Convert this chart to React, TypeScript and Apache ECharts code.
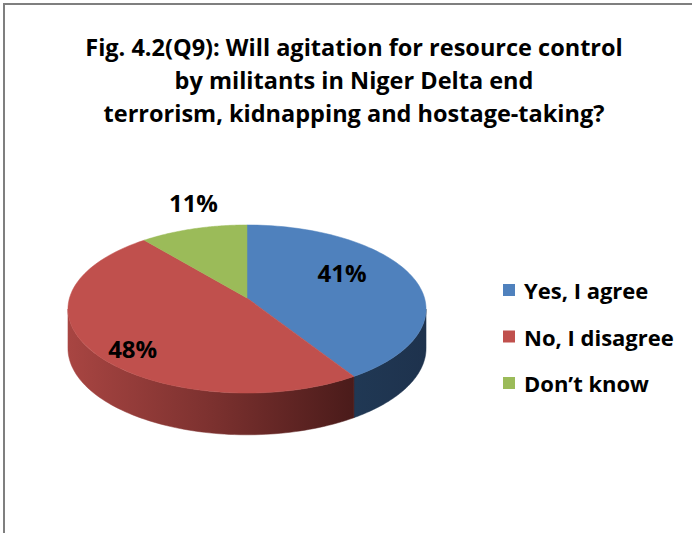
import React, { useEffect, useRef } from "react";
import * as echarts from "echarts";

const titleLines = [
  "Fig. 4.2(Q9): Will agitation for resource control",
  "by militants in Niger Delta end",
  "terrorism, kidnapping and hostage-taking?",
];
const categories = ["Yes, I agree", "No, I disagree", "Don\u2019t know"];
const values = [41, 48, 11];
const labelTexts = ["41%", "48%", "11%"];

const topColors = ["#4f81bd", "#c0504d", "#9bbb59"];
const FONT = "Open Sans";

// projection parameters (perspective ellipse)
const CX = 247;
const Y0 = 298;
const A = 177.5;
const B = 82.6;
const K = 0.131;
const Y0B = 337;
const BB = 85;

function proj(theta: number, r: number, y0: number, b: number): number[] {
  const u = r * Math.sin(theta);
  const v = -r * Math.cos(theta);
  const d = 1 - K * v;
  return [CX + (A * u) / d, y0 + (b * v) / d];
}

const total = values.reduce((s, v) => s + v, 0);
const TH_R = Math.acos(-K);
const TH_L = 2 * Math.PI - TH_R;

const sideFills: any[] = [
  {
    type: "linear", x: 354, y: 0, x2: 427, y2: 0, global: true,
    colorStops: [{ offset: 0, color: "#203854" }, { offset: 1, color: "#1e324d" }],
  },
  {
    type: "linear", x: 68, y: 0, x2: 354, y2: 0, global: true,
    colorStops: [
      { offset: 0, color: "#a84542" },
      { offset: 0.5, color: "#7c312f" },
      { offset: 1, color: "#4a1b1a" },
    ],
  },
  "#6f8a3c",
];
const labelR = [0.6, 0.6, 1.15];
const labelDX = [-5, -24, 7];
const labelDY = [-12, 20, -17];

function makeRender(i: number) {
  return function (_params: any, _api: any) {
    let cum = 0;
    for (let j = 0; j < i; j++) cum += values[j];
    const t0 = (cum / total) * Math.PI * 2;
    const t1 = ((cum + values[i]) / total) * Math.PI * 2;
    const children: any[] = [];
    const N = 80;
    const s0 = Math.max(t0, TH_R);
    const s1 = Math.min(t1, TH_L);
    if (s1 > s0) {
      const pts: number[][] = [];
      for (let k = 0; k <= N; k++) {
        const t = s0 + ((s1 - s0) * k) / N;
        pts.push(proj(t, 1, Y0, B));
      }
      for (let k = N; k >= 0; k--) {
        const t = s0 + ((s1 - s0) * k) / N;
        pts.push(proj(t, 1, Y0B, BB));
      }
      children.push({
        type: "polygon",
        shape: { points: pts },
        style: { fill: sideFills[i], stroke: sideFills[i], lineWidth: 0.5 },
        z2: 1,
      });
    }
    const top: number[][] = [[CX, Y0]];
    for (let k = 0; k <= N; k++) {
      const t = t0 + ((t1 - t0) * k) / N;
      top.push(proj(t, 1, Y0, B));
    }
    children.push({
      type: "polygon",
      shape: { points: top },
      style: { fill: topColors[i], stroke: topColors[i], lineWidth: 0.5 },
      z2: 2,
    });
    const mid = (t0 + t1) / 2;
    const lp = proj(mid, labelR[i], Y0, B);
    children.push({
      type: "text",
      x: lp[0] + labelDX[i],
      y: lp[1] + labelDY[i],
      style: {
        text: labelTexts[i],
        fill: "#000000",
        fontSize: 24,
        fontWeight: "bold",
        fontFamily: FONT,
        align: "center",
        verticalAlign: "middle",
      },
      z2: 3,
    });
    return { type: "group", children };
  };
}

export default function App() {
  const ref = useRef<HTMLDivElement>(null);
  useEffect(() => {
    if (!ref.current) return;
    const chart = echarts.init(ref.current, undefined, { renderer: "svg" });
    chart.setOption({
      animation: false,
      backgroundColor: "#ffffff",
      legend: {
        orient: "vertical",
        left: 498,
        top: 273,
        itemWidth: 12,
        itemHeight: 12,
        itemGap: 22.5,
        icon: "rect",
        selectedMode: false,
        data: categories,
        textStyle: {
          fontSize: 22,
          lineHeight: 24,
          fontWeight: "bold",
          fontFamily: FONT,
          color: "#000000",
          padding: [0, 0, 0, 4],
        },
      },
      graphic: [
        {
          type: "rect",
          shape: { x: 4, y: 4, width: 720, height: 600 },
          style: { fill: "none", stroke: "#7f7f7f", lineWidth: 2 },
          silent: true,
        },
        ...titleLines.map((t, i) => ({
          type: "text",
          x: 354,
          y: 47 + i * 33,
          style: {
            text: t,
            fill: "#000000",
            fontSize: 23.5,
            fontWeight: "bold",
            fontFamily: FONT,
            align: "center",
            verticalAlign: "middle",
          },
          silent: true,
        })),
      ],
      series: categories.map((name, i) => ({
        type: "custom",
        name,
        coordinateSystem: "none",
        silent: true,
        itemStyle: { color: topColors[i] },
        data: [values[i]],
        renderItem: makeRender(i),
      })),
    });
    return () => chart.dispose();
  }, []);
  return (
    <div
      ref={ref}
      style={{ position: "fixed", left: 0, top: 0, width: 692, height: 533 }}
    />
  );
}
